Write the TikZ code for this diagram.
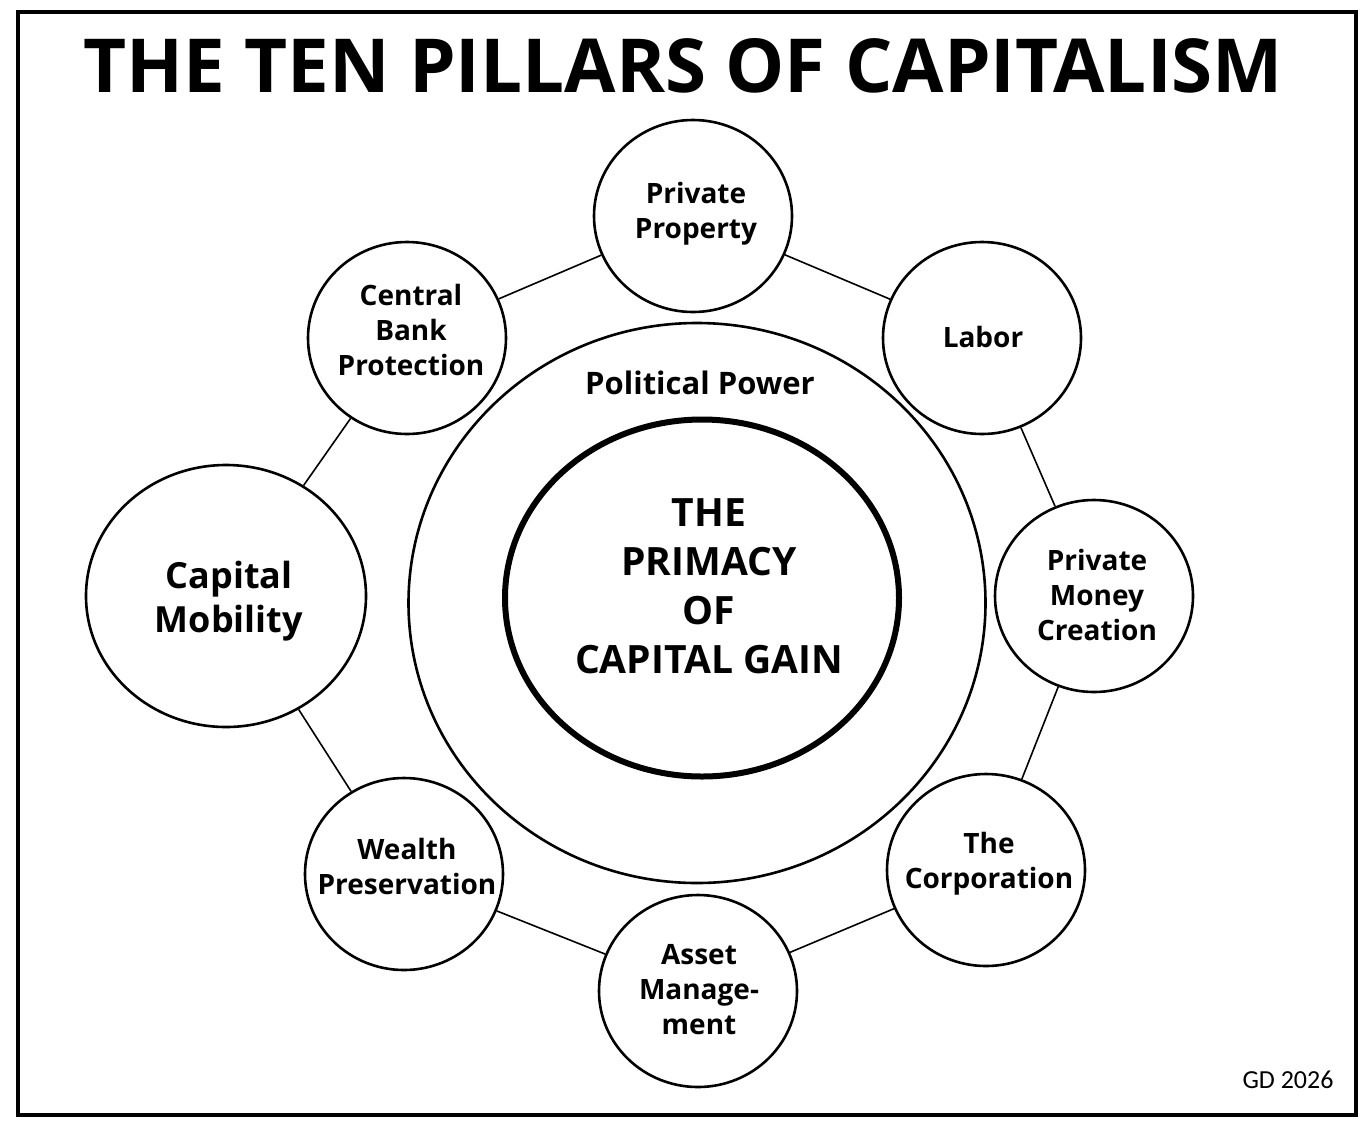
\documentclass[tikz,border=0pt]{standalone}
\usepackage{fontspec}
\setmainfont{Open Sans}
\newfontfamily\sigfont{Carlito}
\usetikzlibrary{shapes.geometric}

\begin{document}
\begin{tikzpicture}[x=1pt, y=-1pt,
  pillar/.style={ellipse, draw, line width=2.6pt, minimum width=198pt,
  minimum height=192pt, inner sep=0pt},
  ptext/.style={align=center, inner sep=0pt,
  font=\fontsize{28}{35}\selectfont\bfseries},
  link/.style={line width=1.6pt}]
  \useasboundingbox (0,0) rectangle (1370,1128);
  \draw[line width=4pt] (18,12) rectangle (1356,1115);
  \node[font=\fontsize{74.5}{80}\selectfont\bfseries] (title) at (683,66)
    {THE TEN PILLARS OF CAPITALISM};

  % centre
  \node[ellipse, draw, line width=2.6pt, minimum width=577pt,
    minimum height=560pt] (power) at (697,603) {};
  \node[ellipse, draw, line width=6pt, minimum width=394pt,
    minimum height=357pt] (core) at (702,598) {};
  \node[align=center, inner sep=0pt, font=\fontsize{39}{49}\selectfont\bfseries]
    (core-t) at (709,586) {THE\\PRIMACY\\OF\\CAPITAL GAIN};
  \node[font=\fontsize{31}{36}\selectfont\bfseries] (power-t) at (700,383)
    {Political Power};

  % pillars
  \node[pillar] (pp) at (693,216) {};
  \node[pillar] (lab) at (982,338) {};
  \node[pillar] (pmc) at (1094,596) {};
  \node[pillar] (corp) at (986,870) {};
  \node[pillar] (am) at (698,991) {};
  \node[pillar] (wp) at (404,874) {};
  \node[pillar, minimum width=280pt, minimum height=262pt] (cm) at (226,596) {};
  \node[pillar] (cbp) at (407,338) {};

  \node[ptext] (pp-t) at (696,214) {Private\\Property};
  \node[ptext] (lab-t) at (983,337) {Labor};
  \node[ptext] (pmc-t) at (1097,595) {Private\\Money\\Creation};
  \node[ptext] (corp-t) at (989,864) {The\\Corporation};
  \node[ptext] (am-t) at (699,990) {Asset\\Manage-\\ment};
  \node[ptext] (wp-t) at (407,866) {Wealth\\Preservation};
  \node[ptext, font=\fontsize{36}{44}\selectfont\bfseries] (cm-t) at (229,601)
    {Capital\\Mobility};
  \node[ptext] (cbp-t) at (411,330) {Central\\Bank\\Protection};

  \draw[link] (pp) -- (lab);
  \draw[link] (lab) -- (pmc);
  \draw[link] (pmc) -- (corp);
  \draw[link] (corp) -- (am);
  \draw[link] (am) -- (wp);
  \draw[link] (wp) -- (cm);
  \draw[link] (cm) -- (cbp);
  \draw[link] (cbp) -- (pp);

  \node[font=\sigfont\fontsize{26}{30}\selectfont] (sig) at (1288,1080) {GD 2026};
\end{tikzpicture}
\end{document}
